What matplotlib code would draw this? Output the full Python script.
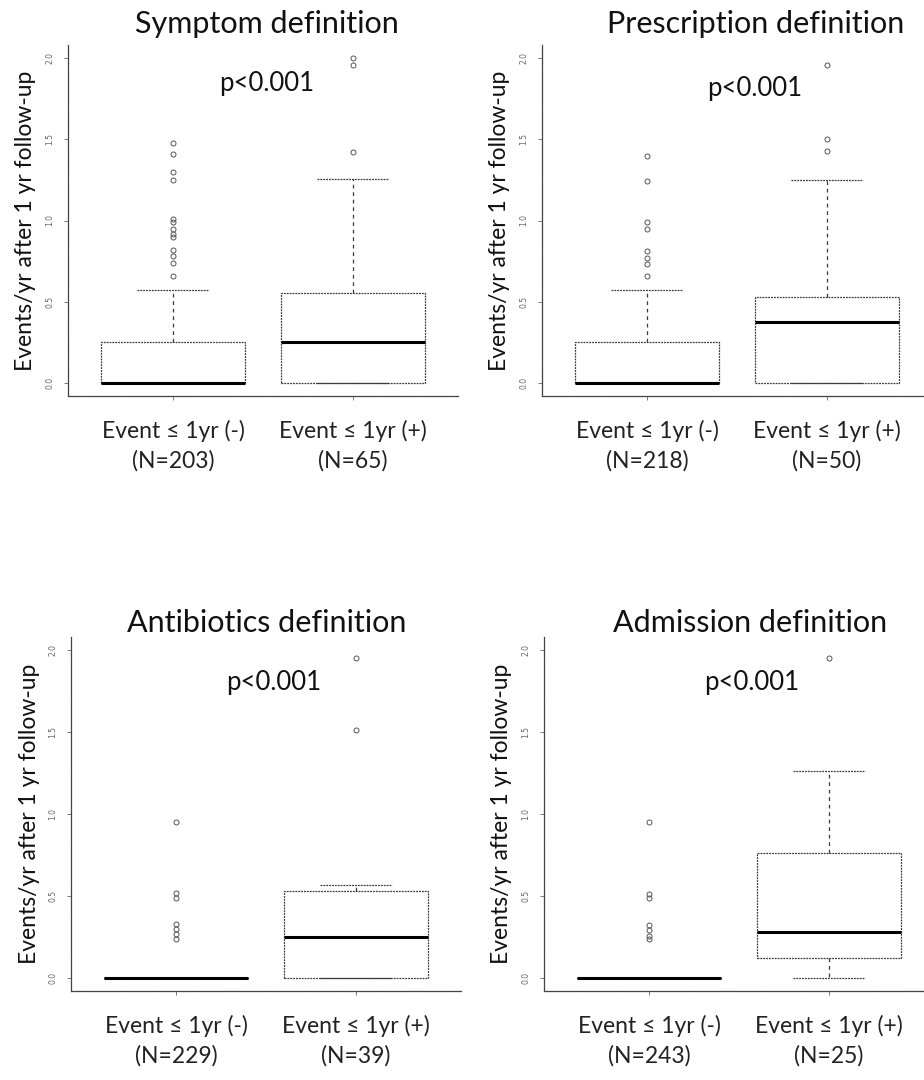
import matplotlib
matplotlib.use("Agg")
import matplotlib.pyplot as plt

plt.rcParams['font.family'] = ['Lato', 'DejaVu Sans']

# ---- data (events/yr after 1 yr follow-up) ----
titles = ["Symptom definition", "Prescription definition",
          "Antibiotics definition", "Admission definition"]
n_neg = [203, 218, 229, 243]
n_pos = [65, 50, 39, 25]

# box stats: [q1, median, q3, whisker low, whisker high]
sym_neg = [0.0, 0.0, 0.25, 0.0, 0.57]
sym_pos = [0.0, 0.25, 0.556, 0.0, 1.257]
pre_neg = [0.0, 0.0, 0.25, 0.0, 0.57]
pre_pos = [0.0, 0.378, 0.53, 0.0, 1.25]
ant_neg = [0.0, 0.0, 0.0, 0.0, 0.0]
ant_pos = [0.0, 0.25, 0.53, 0.0, 0.565]
adm_neg = [0.0, 0.0, 0.0, 0.0, 0.0]
adm_pos = [0.122, 0.28, 0.765, 0.0, 1.26]

sym_neg_out = [0.66, 0.74, 0.78, 0.82, 0.90, 0.92, 0.95, 0.99, 1.01, 1.25, 1.30, 1.41, 1.48]
sym_pos_out = [1.42, 1.96, 2.0]
pre_neg_out = [0.66, 0.73, 0.77, 0.81, 0.95, 0.99, 1.245, 1.40]
pre_pos_out = [1.43, 1.50, 1.96]
ant_neg_out = [0.235, 0.265, 0.30, 0.33, 0.49, 0.52, 0.95]
ant_pos_out = [1.51, 1.95]
adm_neg_out = [0.235, 0.255, 0.29, 0.32, 0.49, 0.51, 0.95]
adm_pos_out = [1.95]

p_text = "p<0.001"
ylabel = "Events/yr after 1 yr follow-up"

panels = [
    (sym_neg, sym_neg_out, sym_pos, sym_pos_out),
    (pre_neg, pre_neg_out, pre_pos, pre_pos_out),
    (ant_neg, ant_neg_out, ant_pos, ant_pos_out),
    (adm_neg, adm_neg_out, adm_pos, adm_pos_out),
]

# ---- layout (pixels in a 924x1080 canvas) ----
W, H = 924, 1080
# left, top, bottom of each plot region; width fixed
rects = [(68, 45, 396), (542, 45, 396), (71, 637, 991), (544, 637, 991)]
axw = 390
title_pos = [(267, 33), (756, 33), (267, 632), (750, 632)]
p_pos = [(1.52, 1.84), (1.60, 1.81), (1.54, 1.80), (1.57, 1.80)]

fig = plt.figure(figsize=(W / 100, H / 100), dpi=100)

line_c = "#3a3a3a"
for i, (neg, neg_out, pos, pos_out) in enumerate(panels):
    left, top, bottom = rects[i]
    ax = fig.add_axes([left / W, 1 - bottom / H, axw / W, (bottom - top) / H])

    stats = []
    for s, out in ((neg, neg_out), (pos, pos_out)):
        stats.append(dict(q1=s[0], med=s[1], q3=s[2], whislo=s[3], whishi=s[4],
                          fliers=out))
    ax.bxp(stats, positions=[1, 2], widths=0.8, showfliers=True,
           boxprops=dict(color=line_c, lw=0.9, linestyle=(0, (1.5, 0.8))),
           medianprops=dict(color="black", lw=2.2),
           whiskerprops=dict(color=line_c, lw=0.9, linestyle=(0, (3, 3))),
           capprops=dict(color=line_c, lw=0.9, linestyle=(0, (1.5, 0.8))),
           flierprops=dict(marker="o", markersize=3.6, markerfacecolor="none",
                           markeredgecolor="#555555", markeredgewidth=0.7))

    ax.set_xlim(0.417, 2.583)
    ax.set_ylim(-0.08, 2.08)
    for side in ("top", "right"):
        ax.spines[side].set_visible(False)
    for side in ("left", "bottom"):
        ax.spines[side].set_color("#444444")
        ax.spines[side].set_linewidth(0.9)
        ax.spines[side].set_linestyle((0, (1.5, 0.8)))

    ax.set_yticks([0.0, 0.5, 1.0, 1.5, 2.0])
    ax.set_yticklabels(["0.0", "0.5", "1.0", "1.5", "2.0"])
    ax.tick_params(axis="y", labelrotation=90, labelsize=5.5, labelcolor="#666666",
                   length=3, width=0.6, color="#666666", pad=7)
    ax.set_xticks([1, 2])
    ax.set_xticklabels([f"Event \u2264 1yr (-)\n(N={n_neg[i]})",
                        f"Event \u2264 1yr (+)\n(N={n_pos[i]})"],
                       fontsize=16.5, linespacing=1.45)
    ax.tick_params(axis="x", length=3, width=0.6, color="#666666", pad=14,
                   labelcolor="#222222")
    for lab in ax.get_yticklabels():
        lab.set_family("DejaVu Sans")
        lab.set_va("center")

    ax.set_ylabel(ylabel, fontsize=16.5, color="#111111", va="center")
    ax.yaxis.set_label_coords(-42 / axw, 0.5)

    ax.text(p_pos[i][0], p_pos[i][1], p_text, fontsize=18.5, ha="center",
            va="center", color="#111111")

    tx, ty = title_pos[i]
    fig.text(tx / W, 1 - ty / H, titles[i], fontsize=22, ha="center",
             va="baseline", color="#111111")

fig.savefig("out.png", dpi=100)
